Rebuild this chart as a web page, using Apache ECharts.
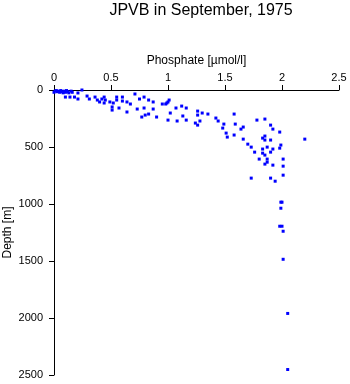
<!DOCTYPE html>
<html>
<head>
<meta charset="utf-8">
<script src="https://cdn.jsdelivr.net/npm/echarts@6/dist/echarts.min.js"></script>
<style>html,body{margin:0;padding:0;background:#fff}#c{width:350px;height:384px}</style>
</head>
<body>
<div id="c"></div>
<script>
var title = "JPVB in September, 1975";
var xName = "Phosphate [\u00b5mol/l]";
var yName = "Depth [m]";
var xTicks = [0, 0.5, 1, 1.5, 2, 2.5];
var yTicks = [0, 500, 1000, 1500, 2000, 2500];
var phosphate = [
 0.00,0.01,0.02,0.03,0.04,0.05,0.06,0.07,0.08,0.09,0.10,0.11,0.12,0.13,0.15,0.16,
 0.245,0.21,0.14,0.18,0.10,0.21,0.29,0.31,0.36,0.38,0.40,0.42,0.44,0.44,0.45,0.49,
 0.51,0.51,0.52,0.55,0.55,0.60,0.60,0.64,0.67,0.57,0.64,0.71,0.75,0.79,0.83,0.87,
 0.73,0.79,0.87,0.77,0.80,0.83,0.90,0.95,0.99,1.00,1.01,0.98,1.00,1.02,1.07,1.08,
 1.12,1.13,1.16,1.16,1.26,1.26,1.26,1.24,1.28,1.30,1.35,1.42,1.44,1.49,1.48,1.51,
 1.52,1.58,1.59,1.58,1.64,1.66,1.66,1.70,1.73,1.76,1.78,1.85,1.90,1.92,1.98,1.83,
 1.85,1.85,1.90,1.87,1.83,1.92,1.98,1.99,1.83,1.85,1.90,1.80,1.87,1.87,1.85,1.92,
 2.01,2.01,2.01,1.73,1.90,1.94,2.20,2.00,1.99,1.99,1.98,2.00,2.01,2.01,2.05,2.05
];
var depth = [
 20,10,5,15,10,20,5,15,25,10,20,5,15,25,10,20,
 0,26,62,62,62,79,53,79,62,88,105,79,62,114,88,105,
 176,149,114,62,88,62,97,105,123,158,193,35,79,62,88,105,
 167,158,167,237,220,211,237,123,114,264,88,123,105,202,158,272,
 141,228,158,264,185,220,308,290,272,202,211,246,272,299,334,378,
 413,211,299,395,343,325,431,475,501,545,264,255,308,343,369,422,
 404,439,439,501,518,518,510,483,554,571,545,606,606,633,650,659,
 606,668,747,773,773,800,431,984,984,1037,1195,1195,1239,1485,1960,2452
];
var pts = phosphate.map(function(p, i){ return [p, depth[i]]; });
var chart = echarts.init(document.getElementById('c'), null, {renderer:'canvas'});
var font = "Liberation Sans, Arial, Helvetica, sans-serif";
chart.setOption({
  animation: false,
  backgroundColor: '#fff',
  title: {
    text: title, left: 196, top: -2, textAlign: 'center',
    textStyle: {fontFamily: font, fontSize: 16, fontWeight: 'normal', color: '#000'}
  },
  grid: {left: 54, right: 11, top: 90, bottom: 9, containLabel: false, outerBoundsMode: 'none'},
  xAxis: {
    type: 'value', position: 'top', min: xTicks[0], max: xTicks[xTicks.length-1], interval: 0.5,
    name: xName, nameLocation: 'middle', nameGap: 19,
    nameTextStyle: {fontFamily: font, fontSize: 12, color: '#000'},
    axisLine: {show: true, lineStyle: {color: '#000', width: 1}},
    axisTick: {show: true, inside: false, length: 5, lineStyle: {color: '#000'}},
    axisLabel: {fontFamily: font, fontSize: 11, color: '#000', margin: 7,
      formatter: function(v){ return String(v); }},
    splitLine: {show: false}
  },
  yAxis: {
    type: 'value', inverse: true, min: yTicks[0], max: yTicks[yTicks.length-1], interval: 500,
    name: yName, nameLocation: 'middle', nameGap: 40, nameRotate: 90, nameMoveOverlap: false,
    nameTextStyle: {fontFamily: font, fontSize: 12, color: '#000'},
    axisLine: {show: true, lineStyle: {color: '#000', width: 1}},
    axisTick: {show: true, inside: false, length: 5, lineStyle: {color: '#000'}},
    axisLabel: {fontFamily: font, fontSize: 11, color: '#000', margin: 11,
      formatter: function(v){ return String(v); }},
    splitLine: {show: false}
  },
  series: [{
    type: 'scatter', data: pts, symbol: 'rect', symbolSize: 3,
    itemStyle: {color: '#0000ff', opacity: 1}
  }]
});
</script>
</body>
</html>
